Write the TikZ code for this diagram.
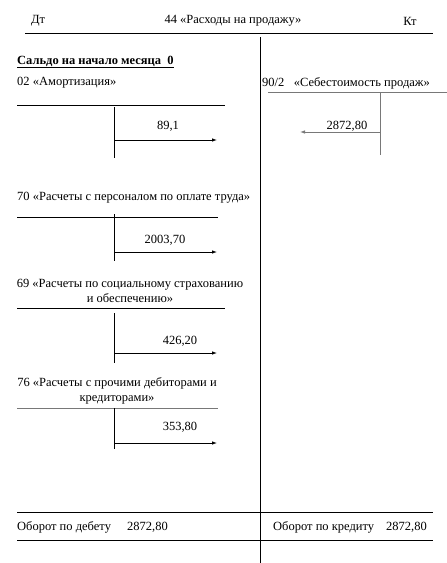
\documentclass[tikz,border=0pt]{standalone}
\usepackage{fontspec}
\setmainfont{Liberation Serif}
\usetikzlibrary{arrows.meta}

\definecolor{ruleGrey}{RGB}{120,120,120}

\begin{document}
\begin{tikzpicture}[x=1pt,y=-1pt,line join=round,
  lbl/.style={anchor=west,inner sep=0pt,font=\fontsize{12.5}{14.5}\selectfont},
  sum/.style={anchor=center,inner sep=0pt,font=\fontsize{12.5}{14.5}\selectfont},
  rule/.style={line width=0.9pt},
  post/.style={line width=0.8pt,-{Latex[length=5pt,width=3.5pt]}}]

  \useasboundingbox (0,0) rectangle (447,563);

  % ---- heading ----
  \node[sum] (dt) at (38,21) {Дт};
  \node[sum] (title) at (233,21) {44 «Расходы на продажу»};
  \node[sum] (kt) at (410,21) {Кт};
  \draw[rule] (25,33) -- (433,33);

  % ---- main T ----
  \draw[rule] (260,37) -- (260,563);
  \node[lbl] (saldo) at (17,62) {\textbf{\underline{Сальдо на начало месяца\ \ 0}}};

  % ---- 02 ----
  \node[lbl] (acc02) at (17,83) {02 «Амортизация»};
  \draw[rule] (17,105) -- (225,105);
  \draw[rule] (114,107) -- (114,158);
  \coordinate (from02) at (114,140);
  \coordinate (to02) at (217,140);
  \draw[post] (from02) -- (to02);
  \node[sum] (sum02) at (168,126) {89,1};

  % ---- 90/2 ----
  \node[lbl] (acc90) at (262,83) {90/2\ \ \ «Себестоимость продаж»};
  \draw[rule,ruleGrey] (268,92) -- (447,92);
  \draw[rule,ruleGrey] (380,92) -- (380,155);
  \coordinate (from90) at (380,132);
  \coordinate (to90) at (300,132);
  \draw[post,ruleGrey] (from90) -- (to90);
  \node[sum] (sum90) at (347,126) {2872,80};

  % ---- 70 ----
  \node[lbl] (acc70) at (17,198) {70 «Расчеты с персоналом по оплате труда»};
  \draw[rule] (17,217) -- (218,217);
  \draw[rule] (114,214) -- (114,261);
  \coordinate (from70) at (114,252);
  \coordinate (to70) at (217,252);
  \draw[post] (from70) -- (to70);
  \node[sum] (sum70) at (165,240) {2003,70};

  % ---- 69 ----
  \node[sum,align=center] (acc69) at (130,291) {69 «Расчеты по социальному страхованию\\и обеспечению»};
  \draw[rule] (17,308) -- (225,308);
  \draw[rule] (114,313) -- (114,363);
  \coordinate (from69) at (114,353);
  \coordinate (to69) at (217,353);
  \draw[post] (from69) -- (to69);
  \node[sum] (sum69) at (180,341) {426,20};

  % ---- 76 ----
  \node[sum,align=center] (acc76) at (117,391) {76 «Расчеты с прочими дебиторами и\\кредиторами»};
  \draw[rule,ruleGrey] (17,408) -- (218,408);
  \draw[rule] (114,408) -- (114,449);
  \coordinate (from76) at (114,443);
  \coordinate (to76) at (217,443);
  \draw[post] (from76) -- (to76);
  \node[sum] (sum76) at (180,427) {353,80};

  % ---- turnover ----
  \draw[rule] (17,512) -- (433,512);
  \node[lbl] (obD) at (17,527) {Оборот по дебету};
  \node[lbl] (obDsum) at (127,527) {2872,80};
  \node[lbl] (obK) at (273,527) {Оборот по кредиту};
  \node[lbl] (obKsum) at (386,527) {2872,80};
  \draw[rule] (17,540) -- (433,540);

\end{tikzpicture}
\end{document}
